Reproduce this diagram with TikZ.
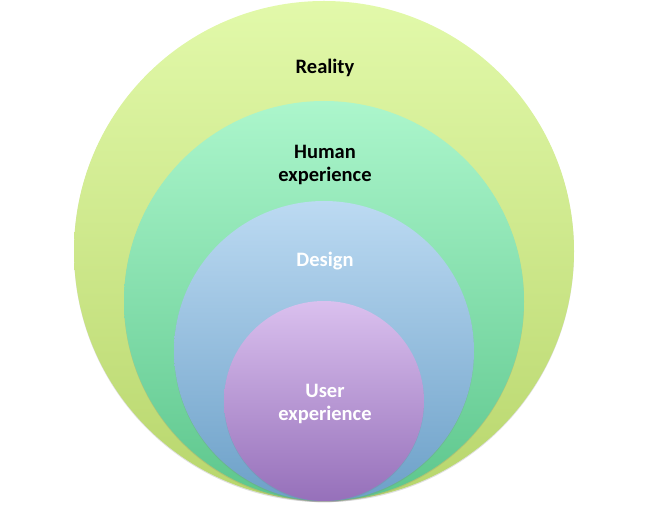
\documentclass[tikz,border=0pt]{standalone}
\usepackage{fontspec}
\setmainfont{Carlito}
\usetikzlibrary{shadows}

\definecolor{realtop}{RGB}{226,249,170}
\definecolor{realbot}{RGB}{184,214,108}
\definecolor{humtop}{RGB}{172,246,204}
\definecolor{humbot}{RGB}{92,198,140}
\definecolor{destop}{RGB}{188,218,242}
\definecolor{desbot}{RGB}{108,160,200}
\definecolor{usrtop}{RGB}{218,192,238}
\definecolor{usrbot}{RGB}{150,112,186}

\tikzset{
  ring/.style={circle, inner sep=0pt, outer sep=0pt, draw=none,
    drop shadow={opacity=0.25, shadow xshift=0pt, shadow yshift=-1.2pt}},
  caption/.style={align=center, font=\fontsize{20.5}{22.5}\selectfont\bfseries}
}

\begin{document}
\begin{tikzpicture}[x=1pt, y=1pt, every node/.style={black}]
	\useasboundingbox (0,0) rectangle (649,506);
%	circles share the bottom point (324,5)
	\coordinate (c-real) at (324,255);
	\coordinate (c-hum)  at (324,205);
	\coordinate (c-des)  at (324,155);
	\coordinate (c-usr)  at (324,105);

	\node (real) [ring, minimum size=500pt, top color=realtop, bottom color=realbot] at (c-real) {};
	\node (hum)  [ring, minimum size=400pt, top color=humtop,  bottom color=humbot]  at (c-hum)  {};
	\node (des)  [ring, minimum size=300pt, top color=destop,  bottom color=desbot]  at (c-des)  {};
	\node (usr)  [ring, minimum size=200pt, top color=usrtop,  bottom color=usrbot]  at (c-usr)  {};

	\node (t-real) [caption] at (325,438) {Reality};
	\node (t-hum)  [caption] at (325,341) {Human\\experience};
	\node (t-des)  [caption, white] at (325,245) {Design};
	\node (t-usr)  [caption, white] at (325,102) {User\\experience};
\end{tikzpicture}
\end{document}
